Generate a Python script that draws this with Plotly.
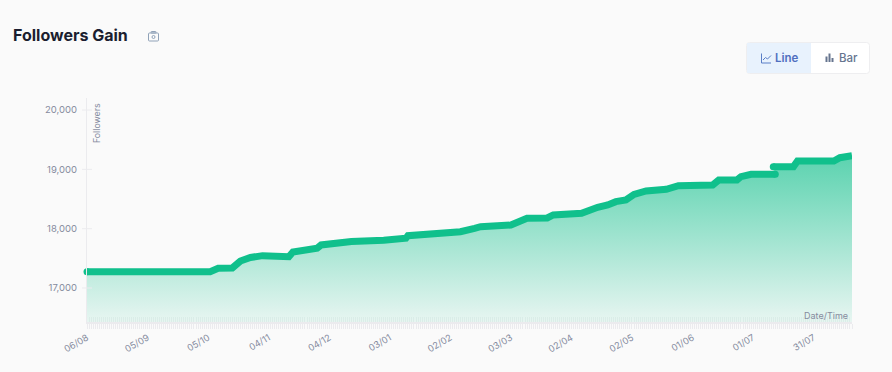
import pandas as pd
import plotly.graph_objects as go

START_DATE = "2023-08-06"
END_DAY = 379

# Readings: days since start and follower counts (two runs with a break)
days_a = [0, 61, 65, 72, 76, 81, 87, 93, 95, 100, 102, 108, 114, 116, 122, 131, 147, 158, 159,
          185, 192, 195, 210, 218, 228, 231, 245, 248, 253, 258, 262, 267, 271, 277, 287, 293,
          310, 313, 322, 324, 329, 341]
followers_a = [17275, 17275, 17332, 17337, 17455, 17515, 17545, 17545, 17517, 17528, 17607, 17652,
               17669, 17725, 17753, 17784, 17804, 17838, 17882, 17949, 18006, 18033, 18062, 18175,
               18180, 18231, 18259, 18303, 18361, 18400, 18455, 18484, 18577, 18636, 18664, 18725,
               18736, 18820, 18820, 18877, 18917, 18917]
days_b = [340, 350, 352, 370, 373, 379]
followers_b = [19045, 19045, 19140, 19140, 19196, 19230]

tick_labels = ["06/08", "05/09", "05/10", "04/11", "04/12", "03/01", "02/02",
               "03/03", "02/04", "02/05", "01/06", "01/07", "31/07"]
tick_day_offsets = [0, 30, 60, 90, 120, 150, 180, 210, 240, 270, 300, 330, 360]
y_ticks = [17000, 18000, 19000, 20000]

W, H = 892, 372
L, R, T, B = 87, 852, 98, 322
GREEN = "#10c08c"
TEXT = "#858b9e"
AXIS = "#ebebee"
BG = "#fafafa"
DAY_MS = 86400000

start = pd.Timestamp(START_DATE)


def to_dates(offsets):
    return [(start + pd.Timedelta(days=d)).strftime("%Y-%m-%d") for d in offsets]


def px(x):
    return (x - L) / (R - L)


def py(y):
    return (B - y) / (B - T)


x_range = to_dates([0, END_DAY])
y_range = [16427, 20202]
tick_vals = to_dates(tick_day_offsets)

xs = to_dates(days_a) + [None] + to_dates(days_b)
ys = followers_a + [None] + followers_b
marker_sizes = [7] + [0] * (len(days_a) - 2) + [7] + [0] + [7] + [0] * (len(days_b) - 1)

fig = go.Figure()
fig.add_trace(go.Scatter(
    x=[x_range[0]], y=[None], xaxis="x2", mode="lines", line=dict(width=0),
    showlegend=False, hoverinfo="skip",
))
fig.add_trace(go.Scatter(
    x=xs, y=ys, mode="lines+markers", cliponaxis=False,
    line=dict(color=GREEN, width=7, shape="linear"),
    marker=dict(color=GREEN, size=marker_sizes, opacity=1, line=dict(width=0, color=GREEN)),
    fill="tozeroy",
    fillgradient=dict(
        type="vertical", start=16427, stop=19230,
        colorscale=[[0, "rgba(16,192,140,0.08)"], [1, "rgba(16,192,140,0.68)"]],
    ),
    hoverinfo="skip", showlegend=False,
))

shapes = []


def rect(x0, y0, x1, y1, fill, line=None):
    shapes.append(dict(type="rect", xref="paper", yref="paper", x0=px(x0), x1=px(x1), y0=py(y0), y1=py(y1),
                       fillcolor=fill, line=dict(color=line or fill, width=1 if line else 0), layer="above"))


def seg(x0, y0, x1, y1, color, width=1):
    shapes.append(dict(type="line", xref="paper", yref="paper", x0=px(x0), x1=px(x1), y0=py(y0), y1=py(y1),
                       line=dict(color=color, width=width), layer="above"))


def rounded(x0, y0, x1, y1, r, fill, line):
    p = (f"M {px(x0 + r)} {py(y0)} L {px(x1 - r)} {py(y0)} Q {px(x1)} {py(y0)} {px(x1)} {py(y0 + r)} "
         f"L {px(x1)} {py(y1 - r)} Q {px(x1)} {py(y1)} {px(x1 - r)} {py(y1)} L {px(x0 + r)} {py(y1)} "
         f"Q {px(x0)} {py(y1)} {px(x0)} {py(y1 - r)} L {px(x0)} {py(y0 + r)} Q {px(x0)} {py(y0)} {px(x0 + r)} {py(y0)} Z")
    shapes.append(dict(type="path", xref="paper", yref="paper", path=p, fillcolor=fill,
                       line=dict(color=line, width=1), layer="above"))


# Y tick stubs crossing the axis line
for v in y_ticks:
    shapes.append(dict(type="line", xref="paper", yref="y", x0=px(82), x1=px(92), y0=v, y1=v,
                       line=dict(color=AXIS, width=1), layer="above"))

# Button group
rounded(746.5, 42.5, 869.5, 73.5, 3, "#ffffff", "#eeeef0")
rect(747, 43, 811, 73, "#e8f2fd")

# Line icon
LINE_BLUE = "#5b7fc7"
seg(761.5, 53.5, 761.5, 63, LINE_BLUE)
seg(761.5, 63, 771, 63, LINE_BLUE)
seg(763, 60, 765.5, 57.5, LINE_BLUE)
seg(765.5, 57.5, 767.5, 59, LINE_BLUE)
seg(767.5, 59, 771, 55.5, LINE_BLUE)

# Bar icon
BAR_BLUE = "#66758f"
rect(825.5, 56.5, 827.5, 62, BAR_BLUE)
rect(828.5, 53.5, 830.5, 62, BAR_BLUE)
rect(831.5, 58, 833.5, 62, BAR_BLUE)

# Camera icon
CAM = "#90a2b8"
rounded(148.5, 33, 158.5, 41, 1, "rgba(0,0,0,0)", CAM)
rounded(151, 31.5, 156, 33, 0.5, "rgba(0,0,0,0)", CAM)
shapes.append(dict(type="circle", xref="paper", yref="paper", x0=px(152), x1=px(155), y0=py(35.5), y1=py(38.5),
                   line=dict(color=CAM, width=1), fillcolor="rgba(0,0,0,0)", layer="above"))


def label(text, x, y, size, color, anchor="left", weight=400, angle=0, family="Inter"):
    return dict(text=text, xref="paper", yref="paper", x=px(x), y=py(y), xanchor=anchor, yanchor="middle",
                showarrow=False, textangle=angle, font=dict(family=family, size=size, color=color, weight=weight))


annotations = [
    label("Followers Gain", 11, 35, 16, "#1b1e2f", weight=700),
    label("Line", 773, 58, 11.5, "#4f6fc0", weight=600),
    label("Bar", 837, 58, 11.5, "#66758f", weight=500),
    label("Followers", 96, 123, 8.8, TEXT, anchor="center", angle=-90),
    label("Date/Time", 850, 315, 9, TEXT, anchor="right"),
]

INNER_TICK = "rgba(205,228,222,0.45)"
tick_style = dict(ticklen=5, tickwidth=1, tickcolor=AXIS)
minor_out = dict(ticks="outside", dtick=DAY_MS, tick0=x_range[0], ticklen=5, tickwidth=1, tickcolor=AXIS)
minor_in = dict(ticks="inside", dtick=DAY_MS, tick0=x_range[0], ticklen=5, tickwidth=1, tickcolor=INNER_TICK)

fig.update_layout(
    width=W, height=H, autosize=False,
    margin=dict(l=L, r=W - R, t=T, b=H - B, pad=0),
    paper_bgcolor=BG, plot_bgcolor=BG,
    font=dict(family="Inter", color=TEXT, size=10),
    shapes=shapes, annotations=annotations, showlegend=False,
    xaxis=dict(
        type="date", range=x_range, tickmode="array", tickvals=tick_vals, ticktext=tick_labels,
        tickangle=-30, ticks="outside", **tick_style, minor=minor_out,
        showgrid=False, zeroline=False, showline=True, linecolor=AXIS, linewidth=2,
        tickfont=dict(family="Inter", size=9.2, color=TEXT),
    ),
    xaxis2=dict(
        type="date", range=x_range, overlaying="x", anchor="y", side="bottom",
        tickmode="array", tickvals=tick_vals, ticktext=[""] * len(tick_vals),
        ticks="inside", ticklen=5, tickwidth=1, tickcolor=INNER_TICK, minor=minor_in,
        showgrid=False, zeroline=False, showline=False, showticklabels=False,
    ),
    yaxis=dict(
        range=y_range, tickmode="array", tickvals=y_ticks, ticks="",
        tickformat=",d", showgrid=False, zeroline=False, showline=True, linecolor=AXIS, linewidth=1,
        ticklabelstandoff=7, tickfont=dict(family="Inter", size=9.5, color=TEXT),
    ),
)

fig.write_html("out.html", config=dict(displayModeBar=False),
               post_script="document.body.style.margin='0';document.body.style.background='#fafafa';")
